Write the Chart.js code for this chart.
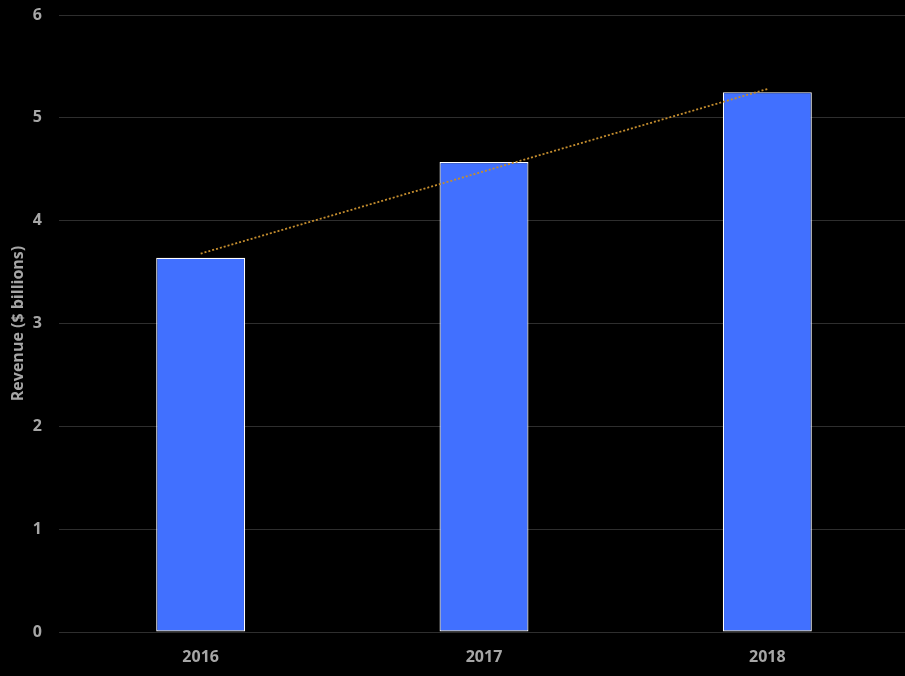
<!DOCTYPE html>
<html>
<head>
<meta charset="utf-8">
<script src="https://cdn.jsdelivr.net/npm/chart.js@4"></script>
<style>
  html, body { margin: 0; padding: 0; background: #000; overflow: hidden; }
  #frame { width: 905px; height: 676px; overflow: hidden; }
  /* the plot in the reference runs a few pixels past the right edge */
  #wrap { width: 909px; height: 676px; position: relative; }
</style>
</head>
<body>
<div id="frame"><div id="wrap"><canvas id="chart"></canvas></div></div>
<script>
// Values
const years = ["2016", "2017", "2018"]
const revenue = [3.64, 4.57, 5.25]
// dotted trend line, read at the bar centres
const trend = [3.68, 4.48, 5.28]
const yTicks = [0, 1, 2, 3, 4, 5, 6]

const tickFont = { family: "'Open Sans', sans-serif", size: 16, weight: "bold" }

new Chart(document.getElementById("chart"), {
  data: {
    labels: years,
    datasets: [
      {
        type: "line",
        label: "Trend",
        data: trend,
        borderColor: "#c48d2e",
        borderWidth: 1.8,
        borderDash: [2, 2],
        pointRadius: 0,
        fill: false,
        tension: 0,
        order: 0,
      },
      {
        type: "bar",
        label: "Revenue",
        data: revenue,
        backgroundColor: "#4170ff",
        borderColor: "#ffffff",
        borderWidth: 1.2,
        borderSkipped: false,
        barPercentage: 0.314,
        categoryPercentage: 1,
        order: 1,
      },
    ],
  },
  options: {
    responsive: true,
    maintainAspectRatio: false,
    animation: false,
    layout: { padding: 0, autoPadding: false },
    plugins: {
      legend: { display: false },
      tooltip: { enabled: false },
    },
    scales: {
      x: {
        afterFit: (axis) => {
          axis.height = 44
        },
        grid: { display: false, drawTicks: false },
        border: { display: false },
        ticks: { color: "#a6a6a6", font: tickFont, padding: 16 },
      },
      y: {
        min: 0,
        max: 6,
        afterBuildTicks: (axis) => {
          axis.ticks = yTicks.map((v) => ({ value: v }))
        },
        afterFit: (axis) => {
          axis.width = 59
          axis.paddingTop = 15
          axis.paddingBottom = 0
        },
        grid: { color: "#2e2e2e", lineWidth: 1, drawTicks: false },
        border: { display: false },
        ticks: { color: "#a6a6a6", font: tickFont, padding: 17 },
        title: {
          display: true,
          text: "Revenue ($ billions)",
          color: "#a6a6a6",
          font: { family: "'Open Sans', sans-serif", size: 16, weight: "bold" },
          padding: { top: 9, bottom: 0 },
        },
      },
    },
  },
})
</script>
</body>
</html>
